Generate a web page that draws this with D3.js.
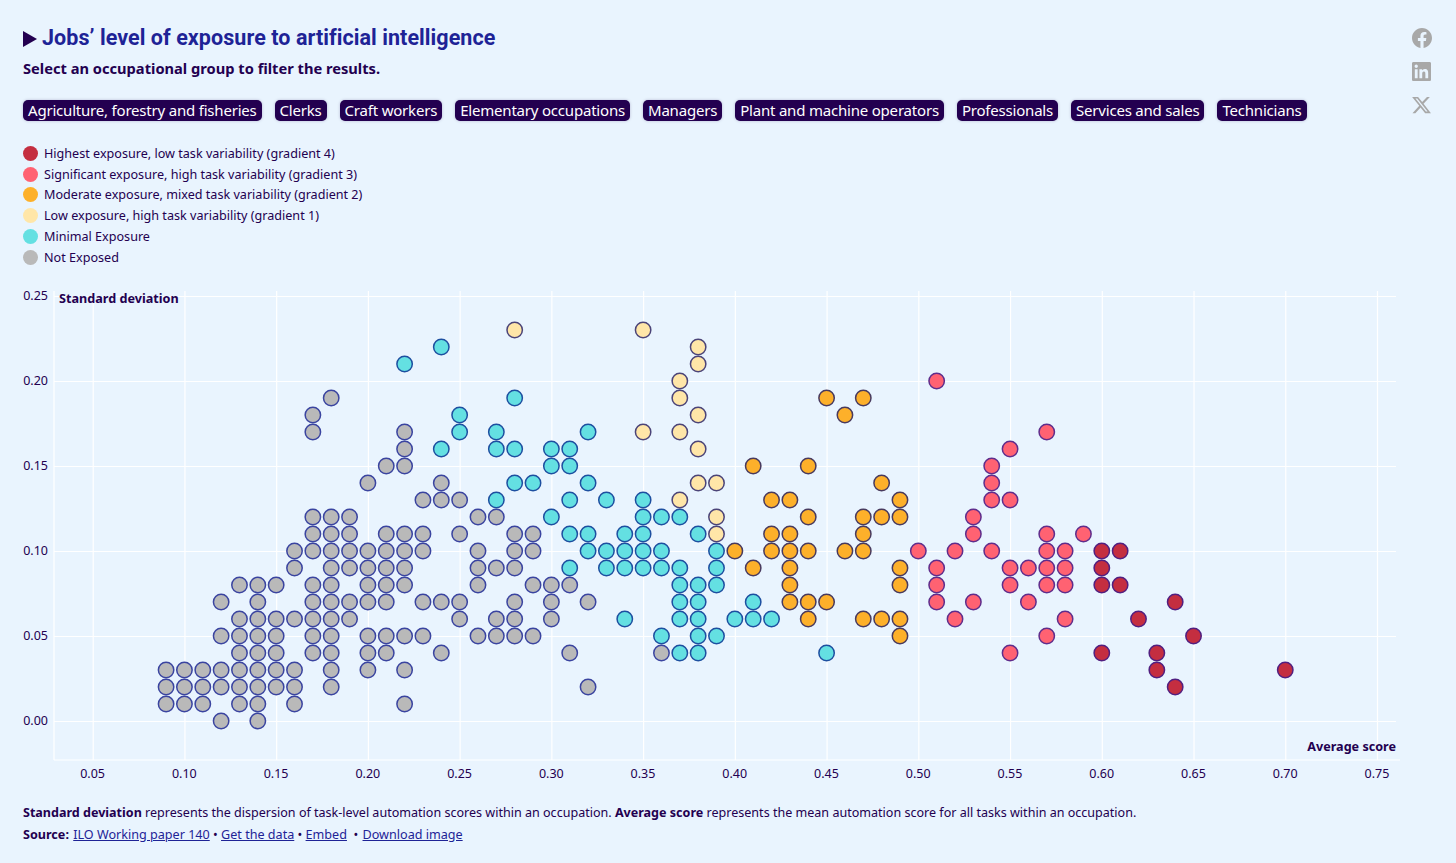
<!DOCTYPE html>
<html>
<head>
<meta charset="utf-8">
<title>Jobs' level of exposure to artificial intelligence</title>
<script src="https://cdn.jsdelivr.net/npm/d3@7"></script>
<style>
  html, body { margin: 0; padding: 0; background: #e9f4fe; }
  body { width: 1456px; height: 863px; position: relative; overflow: hidden; font-family: "Noto Sans", sans-serif; color: #230050; }
  h1 { position: absolute; left: 42px; top: 24px; margin: 0; font: 700 21.5px/28px Roboto, sans-serif; color: #1e2396; letter-spacing: 0.06px; white-space: nowrap; }
  .arrow { position: absolute; left: 23px; top: 31px; width: 0; height: 0; border-left: 14px solid #230050; border-top: 8px solid transparent; border-bottom: 8px solid transparent; }
  .subtitle { position: absolute; left: 23px; top: 58px; font-weight: 700; font-size: 14.66px; line-height: 20px; white-space: nowrap; }
  #buttons { position: absolute; left: 23px; top: 100px; display: flex; gap: 13px; }
  .btn { background: #230050; color: #fff; border-radius: 5px; font-size: 15px; letter-spacing: -0.2px; line-height: 21px; padding: 0 5px; white-space: nowrap; box-shadow: 0 0 3px rgba(35,0,80,.25); }
  #legend { position: absolute; left: 23px; top: 143px; }
  .key { height: 20.8px; display: flex; align-items: center; font-size: 12.6px; white-space: nowrap; }
  .key i { display: inline-block; width: 15px; height: 15px; border-radius: 50%; margin-right: 6px; }
  #chart { position: absolute; left: 0; top: 0; }
  #chart text { font-family: "Noto Sans", sans-serif; fill: #230050; }
  .note { position: absolute; left: 23px; font-size: 12.56px; line-height: 18px; white-space: nowrap; }
  .note a { color: #1e2396; text-decoration: underline; }
  .icon { position: absolute; }
</style>
</head>
<body>
<div class="arrow"></div>
<h1>Jobs’ level of exposure to artificial intelligence</h1>
<div class="subtitle">Select an occupational group to filter the results.</div>
<div id="buttons"></div>
<div id="legend"></div>
<svg id="chart" width="1456" height="863"></svg>
<svg class="icon" style="left:1411.5px;top:28px" width="20" height="20" viewBox="0 0 24 24"><path fill="#a8a8a8" d="M24 12.073c0-6.627-5.373-12-12-12s-12 5.373-12 12c0 5.99 4.388 10.954 10.125 11.854v-8.385H7.078v-3.47h3.047V9.43c0-3.007 1.792-4.669 4.533-4.669 1.312 0 2.686.235 2.686.235v2.953H15.83c-1.491 0-1.956.925-1.956 1.874v2.25h3.328l-.532 3.47h-2.796v8.385C19.612 23.027 24 18.062 24 12.073z"/></svg>
<svg class="icon" style="left:1412px;top:62px" width="19" height="19" viewBox="0 0 24 24" preserveAspectRatio="none"><path fill="#a8a8a8" d="M20.447 20.452h-3.554v-5.569c0-1.328-.027-3.037-1.852-3.037-1.853 0-2.136 1.445-2.136 2.939v5.667H9.351V9h3.414v1.561h.046c.477-.9 1.637-1.85 3.37-1.85 3.601 0 4.267 2.37 4.267 5.455v6.286zM5.337 7.433c-1.144 0-2.063-.926-2.063-2.065 0-1.138.92-2.063 2.063-2.063 1.14 0 2.064.925 2.064 2.063 0 1.139-.925 2.065-2.064 2.065zm1.782 13.019H3.555V9h3.564v11.452zM22.225 0H1.771C.792 0 0 .774 0 1.729v20.542C0 23.227.792 24 1.771 24h20.451C23.2 24 24 23.227 24 22.271V1.729C24 .774 23.2 0 22.222 0h.003z"/></svg>
<svg class="icon" style="left:1410.5px;top:95px" width="21" height="20" viewBox="0 0 24 24" preserveAspectRatio="none"><path fill="#a8a8a8" d="M18.244 2.25h3.308l-7.227 8.26 8.502 11.24H16.17l-5.214-6.817L4.99 21.75H1.68l7.73-8.835L1.254 2.25H8.08l4.713 6.231zm-1.161 17.52h1.833L7.084 4.126H5.117z"/></svg>
<div class="note" style="top:804px"><b>Standard deviation</b> represents the dispersion of task-level automation scores within an occupation. <b>Average score</b> represents the mean automation score for all tasks within an occupation.</div>
<div class="note" style="top:826px;font-size:12.6px"><b>Source:</b> <a style="margin-left:1px">ILO Working paper 140</a> • <a>Get the data</a> • <a>Embed</a> &nbsp;• <a style="margin-left:1px">Download image</a></div>

<script>
// ============ data ============
const occupationGroups = ['Agriculture, forestry and fisheries', 'Clerks', 'Craft workers', 'Elementary occupations',
  'Managers', 'Plant and machine operators', 'Professionals', 'Services and sales', 'Technicians'];

const exposureLabels = ['Highest exposure, low task variability (gradient 4)', 'Significant exposure, high task variability (gradient 3)',
  'Moderate exposure, mixed task variability (gradient 2)', 'Low exposure, high task variability (gradient 1)', 'Minimal Exposure', 'Not Exposed'];

const xTicks = [0.05, 0.10, 0.15, 0.20, 0.25, 0.30, 0.35, 0.40, 0.45, 0.50, 0.55, 0.60, 0.65, 0.70, 0.75];
const yTicks = [0, 0.05, 0.10, 0.15, 0.20, 0.25];

// [average score, standard deviation]
const notExposed = [
  [.12,0],[.14,0],
  [.09,.01],[.10,.01],[.11,.01],[.13,.01],[.14,.01],[.16,.01],[.22,.01],
  [.09,.02],[.10,.02],[.11,.02],[.12,.02],[.13,.02],[.14,.02],[.15,.02],[.16,.02],[.18,.02],[.32,.02],
  [.09,.03],[.10,.03],[.11,.03],[.12,.03],[.13,.03],[.14,.03],[.15,.03],[.16,.03],[.18,.03],[.20,.03],[.22,.03],
  [.13,.04],[.14,.04],[.15,.04],[.17,.04],[.18,.04],[.20,.04],[.21,.04],[.24,.04],[.31,.04],[.36,.04],
  [.12,.05],[.13,.05],[.14,.05],[.15,.05],[.17,.05],[.18,.05],[.20,.05],[.21,.05],[.22,.05],[.23,.05],[.26,.05],[.27,.05],[.28,.05],[.29,.05],
  [.13,.06],[.14,.06],[.15,.06],[.16,.06],[.17,.06],[.18,.06],[.19,.06],[.25,.06],[.27,.06],[.28,.06],[.30,.06],
  [.12,.07],[.14,.07],[.17,.07],[.18,.07],[.19,.07],[.20,.07],[.21,.07],[.23,.07],[.24,.07],[.25,.07],[.28,.07],[.30,.07],[.32,.07],
  [.13,.08],[.14,.08],[.15,.08],[.17,.08],[.18,.08],[.20,.08],[.21,.08],[.22,.08],[.26,.08],[.29,.08],[.30,.08],[.31,.08],
  [.16,.09],[.18,.09],[.19,.09],[.20,.09],[.21,.09],[.22,.09],[.26,.09],[.27,.09],[.28,.09],
  [.16,.10],[.17,.10],[.18,.10],[.19,.10],[.20,.10],[.21,.10],[.22,.10],[.23,.10],[.26,.10],[.28,.10],[.29,.10],
  [.17,.11],[.18,.11],[.19,.11],[.21,.11],[.22,.11],[.23,.11],[.25,.11],[.28,.11],[.29,.11],
  [.17,.12],[.18,.12],[.19,.12],[.26,.12],[.27,.12],
  [.23,.13],[.24,.13],[.25,.13],
  [.20,.14],[.24,.14],
  [.21,.15],[.22,.15],
  [.22,.16],[.22,.17],[.17,.17],[.17,.18],[.18,.19]
];

const minimalExposure = [
  [.37,.04],[.38,.04],[.45,.04],
  [.36,.05],[.38,.05],[.39,.05],
  [.34,.06],[.37,.06],[.38,.06],[.40,.06],[.41,.06],[.42,.06],
  [.37,.07],[.38,.07],[.41,.07],
  [.37,.08],[.38,.08],[.39,.08],
  [.31,.09],[.33,.09],[.34,.09],[.35,.09],[.36,.09],[.37,.09],[.39,.09],
  [.32,.10],[.33,.10],[.34,.10],[.35,.10],[.36,.10],[.39,.10],
  [.31,.11],[.32,.11],[.34,.11],[.35,.11],[.38,.11],
  [.30,.12],[.35,.12],[.36,.12],[.37,.12],
  [.27,.13],[.31,.13],[.33,.13],[.35,.13],
  [.28,.14],[.29,.14],[.32,.14],
  [.30,.15],[.31,.15],
  [.24,.16],[.27,.16],[.28,.16],[.30,.16],[.31,.16],
  [.25,.17],[.27,.17],[.32,.17],
  [.25,.18],[.28,.19],[.22,.21],[.24,.22]
];

const lowExposure = [
  [.39,.11],[.39,.12],[.37,.13],[.38,.14],[.39,.14],[.38,.16],[.35,.17],[.37,.17],
  [.38,.18],[.37,.19],[.37,.20],[.38,.21],[.38,.22],[.28,.23],[.35,.23]
];

const moderateExposure = [
  [.49,.05],
  [.44,.06],[.47,.06],[.48,.06],[.49,.06],
  [.43,.07],[.44,.07],[.45,.07],
  [.43,.08],[.49,.08],
  [.41,.09],[.43,.09],[.49,.09],
  [.40,.10],[.42,.10],[.43,.10],[.44,.10],[.46,.10],[.47,.10],
  [.42,.11],[.43,.11],[.47,.11],
  [.44,.12],[.47,.12],[.48,.12],[.49,.12],
  [.42,.13],[.43,.13],[.49,.13],
  [.48,.14],[.41,.15],[.44,.15],[.46,.18],[.45,.19],[.47,.19]
];

const significantExposure = [
  [.55,.04],[.57,.05],[.52,.06],[.58,.06],
  [.51,.07],[.53,.07],[.56,.07],
  [.51,.08],[.55,.08],[.57,.08],[.58,.08],
  [.51,.09],[.55,.09],[.56,.09],[.57,.09],[.58,.09],
  [.50,.10],[.52,.10],[.54,.10],[.57,.10],[.58,.10],
  [.53,.11],[.57,.11],[.59,.11],
  [.53,.12],[.54,.13],[.55,.13],[.54,.14],[.54,.15],[.55,.16],[.57,.17],[.51,.20]
];

const highestExposure = [
  [.64,.02],[.63,.03],[.70,.03],[.60,.04],[.63,.04],[.65,.05],[.62,.06],[.64,.07],
  [.60,.08],[.61,.08],[.60,.09],[.60,.10],[.61,.10]
];

// legend order, top to bottom
const exposureSeries = [highestExposure, significantExposure, moderateExposure, lowExposure, minimalExposure, notExposed];
const fillColors = ['#c42e40', '#ff6272', '#fdb02a', '#ffe6a8', '#64e0e2', '#b9b9b9'];
const strokeColors = ['#511f80', '#5f2d8c', '#483a5e', '#4b4478', '#1d4fa0', '#3a44a0'];

// ============ header ============
d3.select('#buttons').selectAll('div').data(occupationGroups).join('div')
  .attr('class', 'btn')
  .text(d => d);

const keys = d3.select('#legend').selectAll('div').data(exposureLabels).join('div').attr('class', 'key');
keys.append('i').style('background', (d, i) => fillColors[i]);
keys.append('span').text(d => d);

// ============ chart ============
const svg = d3.select('#chart');
const plotLeft = 54, plotRight = 1400, plotTop = 291, plotBottom = 760;

const x = d3.scaleLinear().domain([0.05, 0.75]).range([92.7, 1377]);
const y = d3.scaleLinear().domain([0, 0.25]).range([721, 296]);

// grid lines
const xAxis = svg.append('g')
  .attr('transform', `translate(0,${plotBottom})`)
  .call(d3.axisBottom(x).tickValues(xTicks).tickFormat(d3.format('.2f')).tickSize(-(plotBottom - plotTop)).tickPadding(9));
const yAxis = svg.append('g')
  .attr('transform', `translate(${plotLeft},0)`)
  .call(d3.axisLeft(y).tickValues(yTicks).tickFormat(d3.format('.2f')).tickSize(-(plotRight - plotLeft - 4)).tickPadding(6));

[xAxis, yAxis].forEach(axis => {
  axis.select('.domain').remove();
  axis.selectAll('.tick line').attr('stroke', '#fff').attr('stroke-width', 1.2);
  axis.selectAll('.tick text').attr('font-size', 12.5);
});
yAxis.selectAll('.tick text').attr('dy', '0.25em');
xAxis.selectAll('.tick text').attr('dx', -0.6);

svg.append('line').attr('x1', plotLeft).attr('x2', plotLeft).attr('y1', plotTop).attr('y2', plotBottom).attr('stroke', '#fff').attr('stroke-width', 1.2);
svg.append('line').attr('x1', plotLeft).attr('x2', plotRight).attr('y1', plotBottom).attr('y2', plotBottom).attr('stroke', '#fff').attr('stroke-width', 1.2);

// axis titles
svg.append('text').attr('x', 59).attr('y', 303).attr('font-size', 12.65).attr('font-weight', 700).text('Standard deviation');
svg.append('text').attr('x', 1396).attr('y', 751).attr('text-anchor', 'end').attr('font-size', 12.6).attr('font-weight', 700).text('Average score');

// points, lowest exposure first so the stronger groups sit on top
const reversedIndex = d3.range(exposureSeries.length).reverse();
svg.append('g').selectAll('g').data(reversedIndex).join('g')
  .attr('fill', i => fillColors[i])
  .attr('stroke', i => strokeColors[i])
  .selectAll('circle').data(i => exposureSeries[i]).join('circle')
  .attr('cx', d => x(d[0]))
  .attr('cy', d => y(d[1]))
  .attr('r', 7.7)
  .attr('stroke-width', 1.5);
</script>
</body>
</html>
